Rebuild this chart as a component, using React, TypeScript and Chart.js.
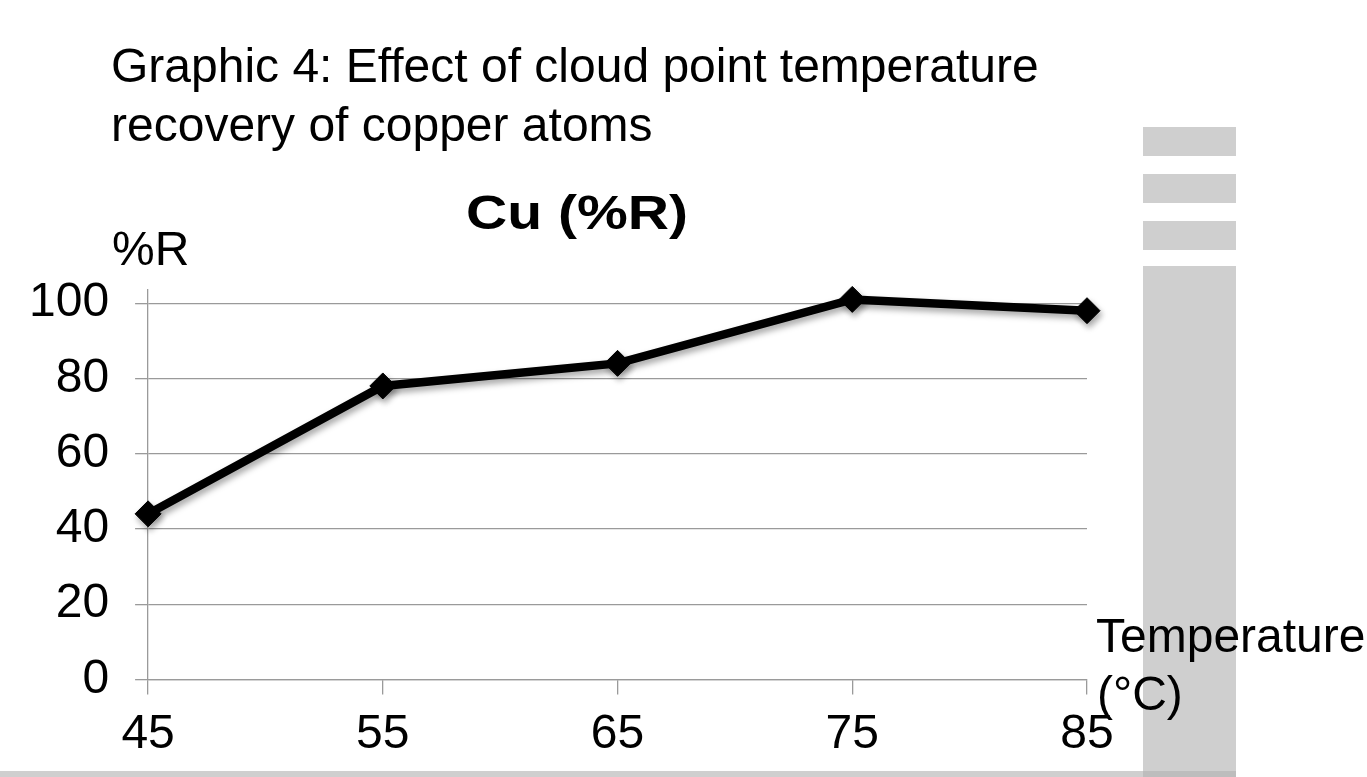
import React, { useEffect, useRef } from "react";
import { Chart, registerables } from "chart.js";

Chart.register(...registerables);

const categories = ["45", "55", "65", "75", "85"];
const recovery = [44, 78, 84, 101, 98];
const yStep = 20;
const yMin = 0;
const yMax = 103.5;

const FONT = '"Liberation Sans", Arial, Helvetica, sans-serif';
const GRID = "#9a9a9a";
const PANEL = "#cfcfcf";

const textPlugin = {
  id: "slideTexts",
  afterDraw(chart: any) {
    const ctx = chart.ctx as CanvasRenderingContext2D;
    ctx.save();
    ctx.fillStyle = "#000";
    ctx.textBaseline = "alphabetic";
    ctx.textAlign = "left";
    ctx.font = `48px ${FONT}`;
    ctx.fillText("Graphic 4: Effect of cloud point temperature", 111, 82);
    ctx.fillText("recovery of copper atoms", 111, 141);
    ctx.fillText("%R", 112, 265);
    ctx.fillText("Temperature", 1096, 652);
    ctx.fillText("(\u00B0C)", 1097, 710);
    ctx.font = `bold 48px ${FONT}`;
    const t = "Cu (%R)";
    const w = ctx.measureText(t).width;
    ctx.translate(466, 229);
    ctx.scale(222 / w, 1);
    ctx.fillText(t, 0, 0);
    ctx.restore();
  },
};

const shadowPlugin = {
  id: "lineShadow",
  beforeDatasetsDraw(chart: any) {
    const c = chart.ctx as CanvasRenderingContext2D;
    c.save();
    c.shadowColor = "rgba(0,0,0,0.35)";
    c.shadowBlur = 6;
    c.shadowOffsetX = 2;
    c.shadowOffsetY = 4;
  },
  afterDatasetsDraw(chart: any) {
    chart.ctx.restore();
  },
};

function box(left: number, top: number, width: number, height: number, color: string) {
  return (
    <div
      style={{
        position: "absolute",
        left,
        top,
        width,
        height,
        background: color,
      }}
    />
  );
}

export default function App() {
  const ref = useRef<HTMLCanvasElement | null>(null);

  useEffect(() => {
    if (!ref.current) return;
    const chart = new Chart(ref.current, {
      type: "line",
      data: {
        labels: categories,
        datasets: [
          {
            label: "Cu (%R)",
            data: recovery,
            borderColor: "#000",
            backgroundColor: "#000",
            borderWidth: 8.5,
            pointStyle: "rectRot",
            pointRadius: 13,
            pointHoverRadius: 13,
            pointBackgroundColor: "#000",
            pointBorderColor: "#000",
            pointBorderWidth: 1,
            tension: 0,
            clip: false as any,
          },
        ],
      },
      options: {
        animation: false,
        responsive: false,
        maintainAspectRatio: false,
        layout: { padding: { left: 3, right: 280, top: 290, bottom: 1 } },
        plugins: {
          legend: { display: false },
          title: { display: false },
          tooltip: { enabled: false },
        },
        scales: {
          x: {
            type: "category",
            offset: false,
            grid: {
              drawOnChartArea: false,
              drawTicks: true,
              tickLength: 15,
              color: GRID,
              lineWidth: 1.3,
            },
            border: { display: true, color: GRID, width: 1.3 },
            ticks: {
              color: "#000",
              font: { family: FONT, size: 48, lineHeight: 1.2 },
              padding: 12,
              maxRotation: 0,
              autoSkip: false,
            },
          },
          y: {
            min: yMin,
            max: yMax,
            grid: { color: GRID, lineWidth: 1.3, tickLength: 13 },
            border: { display: true, color: GRID, width: 1.3 },
            ticks: {
              stepSize: yStep,
              includeBounds: false,
              color: "#000",
              font: { family: FONT, size: 48 },
              padding: 26,
            },
          },
        },
      },
      plugins: [shadowPlugin, textPlugin],
    });
    return () => chart.destroy();
  }, []);

  return (
    <div
      style={{
        position: "fixed",
        left: 0,
        top: 0,
        width: 1367,
        height: 777,
        background: "#fff",
        overflow: "hidden",
      }}
    >
      {box(1143, 127, 93, 29, PANEL)}
      {box(1143, 174, 93, 29, PANEL)}
      {box(1143, 221, 93, 29, PANEL)}
      {box(1143, 266, 93, 511, PANEL)}
      {box(0, 771, 1236, 6, PANEL)}
      {box(1143, 771, 93, 6, "#bdbdbd")}
      <canvas
        ref={ref}
        width={1367}
        height={777}
        style={{ position: "absolute", left: 0, top: 0, width: 1367, height: 777 }}
      />
    </div>
  );
}
